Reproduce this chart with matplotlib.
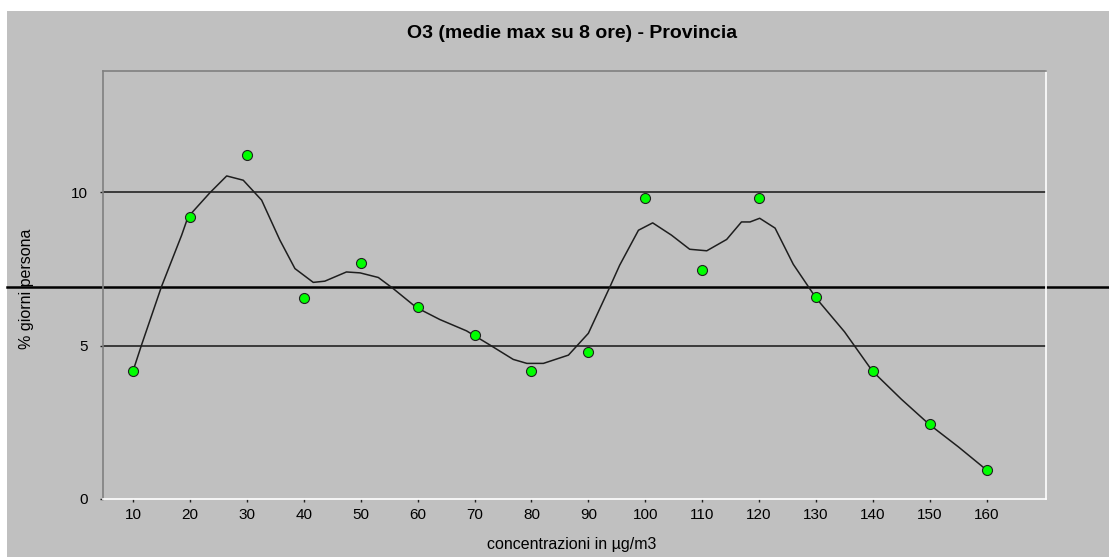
import numpy as np
import matplotlib
matplotlib.use("Agg")
import matplotlib.pyplot as plt
import matplotlib.transforms as mtransforms
from matplotlib.patches import Rectangle

plt.rcParams['font.family'] = ['Liberation Sans', 'DejaVu Sans']

# dati
conc = [10, 20, 30, 40, 50, 60, 70, 80, 90, 100, 110, 120, 130, 140, 150, 160]
perc = [4.17, 9.18, 11.2, 6.56, 7.69, 6.25, 5.34, 4.17, 4.79, 9.80, 7.46, 9.80, 6.58, 4.17, 2.43, 0.94]

# curva smussata (vertici)
curve_x = [10, 11.5, 15.0, 18.55, 19.66, 23.5, 26.46, 29.37, 32.6, 35.8, 38.45, 41.67, 43.7,
           47.5, 49.9, 53.1, 55.7, 59.8, 63.9, 68.6, 72.7, 76.8, 79.2, 82.1, 86.5, 90.0,
           93.8, 95.5, 98.8, 101.3, 104.6, 107.8, 110.8, 114.3, 116.9, 118.4, 120.1, 122.8,
           126.0, 130.0, 135.0, 139.9, 145.0, 149.9, 155.0, 160]
curve_y = [4.17, 5.02, 6.92, 8.60, 9.19, 9.98, 10.53, 10.39, 9.74, 8.44, 7.51, 7.06, 7.10,
           7.40, 7.37, 7.22, 6.86, 6.24, 5.85, 5.48, 5.02, 4.55, 4.42, 4.42, 4.69, 5.40,
           6.92, 7.62, 8.76, 9.00, 8.60, 8.14, 8.09, 8.46, 9.03, 9.03, 9.15, 8.83,
           7.65, 6.55, 5.45, 4.17, 3.25, 2.43, 1.70, 0.94]

soglia = 6.9
griglia = [5, 10]
yticks = [0, 5, 10]

titolo = "O3 (medie max su 8 ore) - Provincia"
xlab = "concentrazioni in µg/m3"
ylab = "% giorni persona"

W, H = 1109, 557
fig = plt.figure(figsize=(W / 100, H / 100), dpi=100)
fig.patch.set_facecolor("white")
fig.patches.append(Rectangle((7 / W, 0), 1, 1 - 11 / H, transform=fig.transFigure,
                             facecolor="#c0c0c0", edgecolor="none", zorder=-10))

ax = fig.add_axes([103 / W, 1 - 499 / H, (1046 - 103) / W, (499 - 71) / H])
ax.set_facecolor("#c0c0c0")
ax.set_xlim(4.73, 170.4)
ax.set_ylim(0, 13.95)

for g in griglia:
    ax.axhline(g, color="#3a3a3a", lw=1.4, zorder=1)

# linea di soglia su tutta la larghezza
trans = mtransforms.blended_transform_factory(fig.transFigure, ax.transData)
ax.plot([7 / W, 1], [soglia, soglia], color="black", lw=1.8, transform=trans,
        clip_on=False, zorder=2)

ax.plot(curve_x, curve_y, color="#1e1e1e", lw=1.1, zorder=3)
ax.plot(conc, perc, "o", ms=7.2, mfc="#00ff00", mec="#202020", mew=0.8, zorder=4)

ax.set_xticks(conc)
ax.set_yticks(yticks)
ax.tick_params(axis="x", length=2.2, width=1, color="#202020", pad=4.5, labelsize=11)
ax.tick_params(axis="y", length=2.2, width=1, color="#202020", pad=8.5, labelsize=11)

ax.spines["left"].set_color("#808080")
ax.spines["top"].set_color("#808080")
ax.spines["right"].set_color("white")
ax.spines["bottom"].set_color("white")
for s in ax.spines.values():
    s.set_linewidth(1.2)

fig.text(572 / W, 1 - 34 / H, titolo, ha="center", va="center", fontsize=14, fontweight="bold")
fig.text(572 / W, 1 - 545 / H, xlab, ha="center", va="center", fontsize=11.5)
fig.text(26 / W, 1 - 289 / H, ylab, ha="center", va="center", fontsize=11.5, rotation=90)

fig.savefig("out.png", dpi=100, facecolor=fig.get_facecolor())
